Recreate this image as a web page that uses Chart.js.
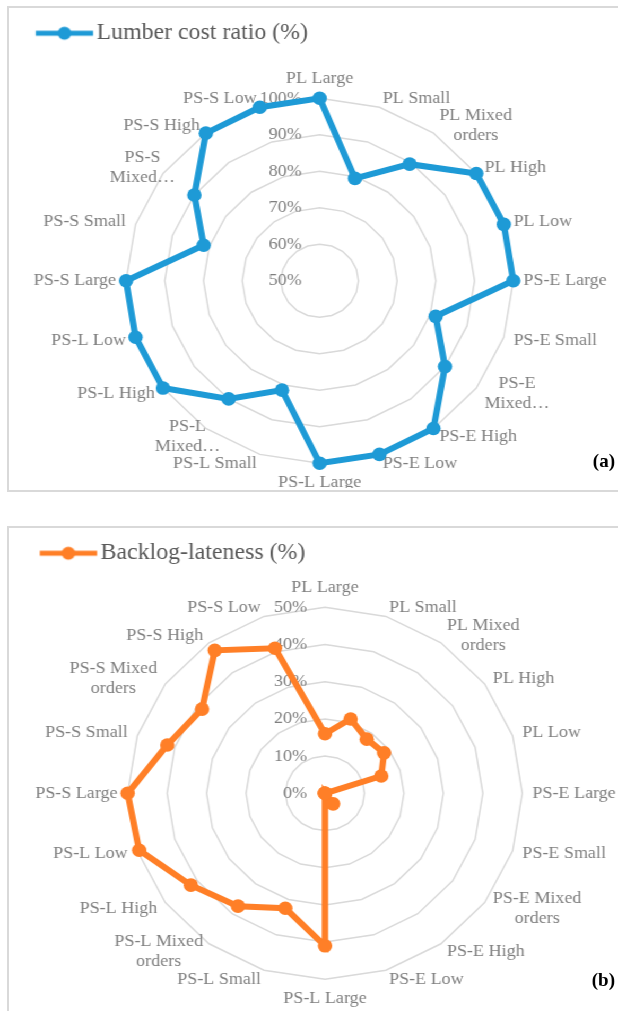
<!DOCTYPE html>
<html>
<head>
<meta charset="utf-8">
<title>Radar charts</title>
<script src="https://cdn.jsdelivr.net/npm/chart.js@4.4.1/dist/chart.umd.min.js"></script>
<style>
  html, body { margin: 0; padding: 0; background: #fff; overflow: hidden; }
  body { width: 618px; height: 1011px; position: relative; }
  .frame { position: absolute; left: 7px; width: 640px; border: 2px solid #d9d9d9; box-sizing: border-box; }
  #frameA { top: 6px; height: 486px; }
  #frameB { top: 526px; height: 520px; }
  /* the source figure is a little wider than tall, so stretch the charts the same way */
  #stretch { position: absolute; left: 0; top: 0; width: 583px; height: 1011px; transform: scaleX(1.061); transform-origin: 0 0; }
  #stretch canvas { position: absolute; left: 0; }
  #chartA { top: 8px; }
  #chartB { top: 529px; }
  .tag { position: absolute; right: 3px; font: bold 19px "Liberation Serif", serif; line-height: 22px; color: #000; }
</style>
</head>
<body>
<div class="frame" id="frameA"></div>
<div class="frame" id="frameB"></div>
<div id="stretch">
  <canvas id="chartA" width="583" height="480"></canvas>
  <canvas id="chartB" width="583" height="480"></canvas>
</div>
<div class="tag" style="top:450px">(a)</div>
<div class="tag" style="top:969px">(b)</div>

<script>
// Category labels, as the figure prints them (panel a truncates some)
const costLabels = ['PL Large', 'PL Small', ['PL Mixed', 'orders'], 'PL High', 'PL Low',
    'PS-E Large', 'PS-E Small', ['PS-E', 'Mixed…'], 'PS-E High', 'PS-E Low',
    'PS-L Large', 'PS-L Small', ['PS-L', 'Mixed…'], 'PS-L High', 'PS-L Low',
    'PS-S Large', 'PS-S Small', ['PS-S', 'Mixed…'], 'PS-S High', 'PS-S Low'];
const backlogLabels = ['PL Large', 'PL Small', ['PL Mixed', 'orders'], 'PL High', 'PL Low',
    'PS-E Large', 'PS-E Small', ['PS-E Mixed', 'orders'], 'PS-E High', 'PS-E Low',
    'PS-L Large', 'PS-L Small', ['PS-L Mixed', 'orders'], 'PS-L High', 'PS-L Low',
    'PS-S Large', 'PS-S Small', ['PS-S Mixed', 'orders'], 'PS-S High', 'PS-S Low'];

// Series values (%)
const costRatio = [100, 79.5, 89.5, 100, 100, 100, 81.5, 90, 100, 100,
    100, 81.5, 90, 100, 100, 100, 81.5, 90, 100, 100];
const backlogLateness = [16, 21, 18, 18.5, 15, 0, 0, 0, 3.5, 0,
    41, 32.5, 37.5, 42, 49.5, 50, 42, 38.5, 47.5, 41];

// Tick labels of the radial axis
const costTicks = [50, 60, 70, 80, 90, 100];
const backlogTicks = [0, 10, 20, 30, 40, 50];

Chart.defaults.font.family = '"Liberation Serif", "Times New Roman", serif';

const LABEL_FONT = '17px "Liberation Serif"';
const LABEL_COLOR = '#7f7f7f';
const LINE_H = 20;

// Excel style labels: ticks left of the vertical axis, category labels centred beside each spoke
const excelLabels = {
    id: 'excelLabels',
    beforeDatasetsDraw(chart) {
        const scale = chart.scales.r;
        const ctx = chart.ctx;
        ctx.save();
        ctx.font = LABEL_FONT;
        ctx.fillStyle = LABEL_COLOR;

        ctx.textAlign = 'right';
        ctx.textBaseline = 'middle';
        scale.ticks.forEach(t => {
            const p = scale.getPointPositionForValue(0, t.value);
            ctx.fillText(t.value + '%', p.x - 17, p.y);
        });

        const labels = chart.data.labels;
        ctx.textAlign = 'center';
        labels.forEach((label, i) => {
            const lines = [].concat(label);
            const p = scale.getPointPosition(i, scale.drawingArea + 9.5);
            const deg = Math.round(i * 360 / labels.length);
            const w = Math.max(...lines.map(l => ctx.measureText(l).width));
            const h = lines.length * LINE_H;
            let left, top;
            if (deg === 0 || deg === 180) left = p.x - w / 2;
            else if (deg < 180) left = p.x;
            else left = p.x - w;
            // Excel keeps truncated labels on the left side tucked in towards the plot
            if (deg > 180 && lines[lines.length - 1].endsWith('…')) left += 19;
            if (deg === 0) top = p.y - h;
            else if (deg === 180) top = p.y;
            else top = p.y - h / 2;
            lines.forEach((l, k) => ctx.fillText(l, left + w / 2, top + LINE_H * (k + 0.5)));
        });
        ctx.restore();
    }
};

// Legend marker: a line with a dot in the middle
function legendIcon(color) {
    const c = document.createElement('canvas');
    c.width = 80;
    c.height = 20;
    const g = c.getContext('2d');
    g.strokeStyle = color;
    g.lineWidth = 5;
    g.beginPath();
    g.moveTo(22, 10);
    g.lineTo(76, 10);
    g.stroke();
    g.fillStyle = color;
    g.beginPath();
    g.arc(49, 10, 6.5, 0, Math.PI * 2);
    g.fill();
    return c;
}

function radarChart(id, labels, name, values, ticks, color, geo) {
    new Chart(document.getElementById(id), {
        type: 'radar',
        data: {
            labels: labels,
            datasets: [{
                label: name,
                data: values,
                borderColor: color,
                backgroundColor: color,
                borderWidth: 6,
                pointRadius: 6.8,
                pointHoverRadius: 6.8,
                pointBackgroundColor: color,
                pointBorderWidth: 0,
                fill: false
            }]
        },
        options: {
            responsive: false,
            animation: false,
            devicePixelRatio: 1,
            layout: { padding: { top: geo.legendTop, left: geo.legendLeft } },
            plugins: {
                legend: {
                    align: 'start',
                    labels: {
                        usePointStyle: true,
                        pointStyle: legendIcon(color),
                        pointStyleWidth: 56,
                        padding: 10,
                        color: '#595959',
                        font: { size: 22.5 }
                    }
                },
                tooltip: { enabled: false }
            },
            scales: {
                r: {
                    min: ticks[0],
                    max: ticks[ticks.length - 1],
                    ticks: { display: false, stepSize: ticks[1] - ticks[0] },
                    grid: { color: '#d9d9d9', lineWidth: 1.5 },
                    angleLines: { display: false },
                    pointLabels: { display: false },
                    afterFit: (s) => {
                        s.xCenter = geo.cx;
                        s.yCenter = geo.cy;
                        s.drawingArea = geo.r;
                    }
                }
            }
        },
        plugins: [excelLabels]
    });
}

radarChart('chartA', costLabels, 'Lumber cost ratio (%)', costRatio, costTicks, '#1e9ad6',
    { cx: 301.3, cy: 272.8, r: 182.5, legendTop: 4, legendLeft: 13.75 });
radarChart('chartB', backlogLabels, 'Backlog-lateness (%)', backlogLateness, backlogTicks, '#ff7f27',
    { cx: 306.3, cy: 264.3, r: 186, legendTop: 3, legendLeft: 17.5 });
</script>
</body>
</html>
